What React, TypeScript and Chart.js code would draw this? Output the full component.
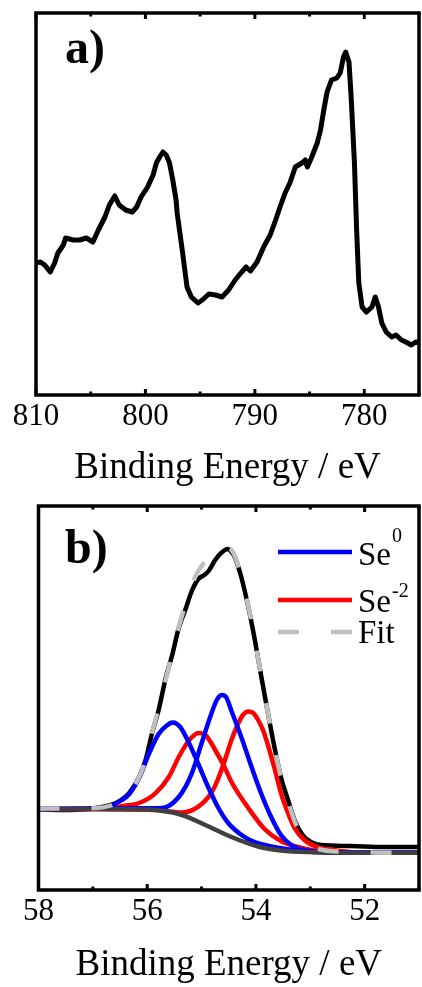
import React, { useEffect, useRef } from 'react';
import { Chart, registerables } from 'chart.js';

Chart.register(...registerables);

const FONT = '"Liberation Serif", "Times New Roman", Times, serif';

// ---------- Panel a: survey region ----------
const surveyEnergy = [
  810.0, 809.6, 809.2, 808.7, 808.3, 808.0, 807.5, 807.3, 806.6, 806.0,
  805.4, 804.8, 804.3, 803.7, 803.3, 802.8, 802.4, 801.8, 801.2, 800.8,
  800.4, 799.8, 799.3, 799.0, 798.7, 798.4, 798.1, 797.8, 797.5, 797.2,
  797.1, 796.6, 796.2, 795.8, 795.5, 795.2, 794.8, 794.2, 793.6, 793.0,
  792.4, 791.8, 791.2, 790.8, 790.4, 789.8, 789.2, 788.6, 788.1, 787.7,
  787.2, 786.8, 786.3, 785.7, 785.4, 785.2, 784.8, 784.3, 784.0, 783.7,
  783.4, 783.0, 782.5, 782.2, 781.9, 781.7, 781.4, 781.2, 780.9, 780.7,
  780.5, 780.2, 779.8, 779.3, 779.0, 778.7, 778.4, 778.0, 777.5, 777.1,
  776.6, 776.2, 775.7, 775.3, 775.0,
];
const surveyIntensity = [
  132, 133, 130, 123, 132, 142, 150, 157, 155, 155,
  157, 153, 165, 178, 190, 199, 190, 185, 183, 188,
  198, 208, 220, 232, 238, 243, 240, 232, 215, 195,
  182, 142, 108, 98, 95, 92, 95, 101, 100, 98,
  105, 115, 123, 128, 124, 133, 148, 160, 175, 188,
  203, 212, 228, 232, 235, 228, 238, 252, 265, 285,
  303, 315, 317, 322, 338, 343, 333, 298, 232, 165,
  112, 88, 83, 88, 98, 88, 72, 63, 58, 60,
  55, 53, 50, 53, 52,
];
const surveyTickLabels = [810, 800, 790, 780];

// ---------- Panel b: Se 3d ----------
const se3dEnergy = [
  58.0, 57.55, 56.94, 56.67, 56.48, 56.33, 56.15, 56.03, 55.91, 55.79,
  55.66, 55.54, 55.42, 55.3, 55.18, 55.06, 54.95, 54.87, 54.75, 54.63,
  54.52, 54.45, 54.39, 54.27, 54.14, 54.02, 53.9, 53.78, 53.66, 53.54,
  53.41, 53.29, 53.14, 52.99, 52.81, 52.26, 51.65, 51.0,
];
const se3dIntensity = [
  81, 80, 82, 85, 90, 97, 113, 130, 157, 180,
  212, 235, 262, 280, 299, 311, 315, 319, 330, 337.5,
  341, 338, 333, 313, 283, 250, 213, 177, 143, 113,
  90, 70, 55, 48, 45, 44, 43, 43,
];

const fitEnergy = [
  58.0, 56.94, 56.67, 56.48, 56.33, 56.15, 56.03, 55.91, 55.79, 55.66,
  55.54, 55.42, 55.3, 55.18, 55.06, 54.93, 54.81, 54.69, 54.57, 54.45,
  54.39, 54.27, 54.14, 54.02, 53.9, 53.78, 53.66, 53.54, 53.41, 53.29,
  53.14, 52.99, 52.81, 52.5, 51.95, 51.0,
];
const fitIntensity = [
  81.5, 82, 84.5, 90, 97, 113, 130, 157, 182, 210,
  237, 263, 285, 305, 319, 329, 337, 341, 342.5, 340,
  334, 314, 284, 250, 213, 177, 143, 113, 89, 69,
  53, 45, 40.5, 38.5, 37.5, 37.3,
];

const backgroundEnergy = [58.0, 57.49, 56.88, 56.27, 55.85, 55.36, 54.93, 54.45, 53.96, 53.54, 52.93, 52.01, 51.0];
const backgroundIntensity = [81, 81, 81, 80.8, 80, 75, 65, 53, 43.5, 39.5, 37.8, 37.3, 37.3];

const se0aEnergy = [
  58.0, 56.88, 56.67, 56.48, 56.33, 56.15, 55.97, 55.79, 55.64, 55.53,
  55.4, 55.24, 55.06, 54.87, 54.69, 54.51, 54.29, 54.09, 53.72, 53.23, 52.68, 51.0,
];
const se0aIntensity = [
  81, 81.5, 84, 89.5, 96, 112, 136, 156, 164.5, 167.5,
  163.5, 148, 126, 102, 82, 67, 56, 49.5, 43.5, 39.5, 37.5, 37.3,
];

const se0bEnergy = [
  58.0, 56.27, 55.73, 55.42, 55.18, 55.0, 54.84, 54.72, 54.63, 54.55,
  54.45, 54.27, 54.08, 53.9, 53.72, 53.54, 53.35, 53.11, 52.87, 51.0,
];
const se0bIntensity = [
  81, 81.7, 82, 93, 116.7, 146.7, 173.3, 190, 195, 193,
  179, 153, 123, 96, 73, 55, 45, 40, 38.3, 37.3,
];

const seM2aEnergy = [
  58.0, 56.7, 56.46, 56.15, 55.85, 55.6, 55.42, 55.24, 55.12, 55.06,
  54.93, 54.75, 54.57, 54.45, 54.14, 53.84, 53.54, 53.23, 52.87, 52.32, 51.0,
];
const seM2aIntensity = [
  81, 81.5, 84, 87, 96.7, 113.3, 133, 149, 155.5, 157,
  155, 140, 122, 108, 82, 61, 49, 43, 39, 37.5, 37.3,
];

const seM2bEnergy = [
  58.0, 55.85, 55.36, 55.06, 54.81, 54.69, 54.57, 54.45, 54.33, 54.24,
  54.14, 54.05, 53.96, 53.87, 53.78, 53.66, 53.54, 53.41, 53.29, 53.11,
  52.87, 52.56, 52.14, 51.0,
];
const seM2bIntensity = [
  81, 80, 77.5, 83.3, 98, 112, 130, 150, 166, 175,
  178.5, 177, 170, 160, 145, 122, 97, 77, 62, 50,
  43, 40, 37.7, 37.3,
];
const se3dTickLabels = [58, 56, 54, 52];

const pts = (xs: number[], ys: number[]) => xs.map((x, i) => ({ x, y: ys[i] }));

const framePlugin = {
  id: 'frame',
  afterDatasetsDraw(chart: any) {
    const { ctx, chartArea } = chart;
    const { left, right, top, bottom } = chartArea;
    const xs = chart.scales.x;
    ctx.save();
    ctx.strokeStyle = '#000';
    ctx.lineWidth = 3.5;
    ctx.strokeRect(left, top, right - left, bottom - top);
    ctx.lineWidth = 3;
    xs.ticks.forEach((t: any) => {
      const px = xs.getPixelForValue(t.value);
      const major = t.label !== '' && t.label !== undefined;
      const len = major ? 6 : 3.5;
      ctx.beginPath();
      ctx.moveTo(px, bottom);
      ctx.lineTo(px, bottom - len);
      ctx.moveTo(px, top);
      ctx.lineTo(px, top + len);
      ctx.stroke();
    });
    ctx.restore();
  },
};

const panelLabel = (text: string, x: number, y: number) => ({
  id: 'panelLabel',
  afterDraw(chart: any) {
    const ctx = chart.ctx;
    ctx.save();
    ctx.fillStyle = '#000';
    ctx.font = `bold 48px ${FONT}`;
    ctx.textBaseline = 'alphabetic';
    ctx.textAlign = 'left';
    ctx.fillText(text, x, y);
    ctx.restore();
  },
});

const legendPlugin = {
  id: 'seLegend',
  afterDraw(chart: any) {
    const ctx = chart.ctx;
    ctx.save();
    ctx.lineWidth = 4.5;
    ctx.lineCap = 'butt';
    const line = (color: string, y: number, dash: number[]) => {
      ctx.strokeStyle = color;
      ctx.setLineDash(dash);
      ctx.beginPath();
      ctx.moveTo(278, y);
      ctx.lineTo(352, y);
      ctx.stroke();
    };
    line('#0000ff', 62, []);
    line('#ff0000', 110, []);
    line('#c0c0c0', 142, [21, 32]);
    ctx.setLineDash([]);
    ctx.fillStyle = '#000';
    ctx.textBaseline = 'alphabetic';
    ctx.textAlign = 'left';
    ctx.font = `33px ${FONT}`;
    const seW = ctx.measureText('Se').width;
    ctx.fillText('Se', 358, 75);
    ctx.fillText('Se', 358, 122);
    ctx.fillText('Fit', 358, 153);
    ctx.font = `20px ${FONT}`;
    ctx.fillText('0', 358 + seW + 1, 52);
    ctx.fillText('-2', 358 + seW + 1, 107);
    ctx.restore();
  },
};

const axisX = (min: number, max: number, step: number, labels: number[], height: number) => ({
  type: 'linear' as const,
  reverse: true,
  min,
  max,
  ticks: {
    stepSize: step,
    autoSkip: false,
    maxRotation: 0,
    minRotation: 0,
    padding: 3,
    color: '#000',
    font: { family: FONT, size: 31 },
    callback: (v: any) => (labels.includes(Number(v)) ? String(v) : ''),
  },
  grid: { display: false, drawTicks: false },
  border: { display: false },
  title: {
    display: true,
    text: 'Binding Energy / eV',
    color: '#000',
    font: { family: FONT, size: 37 },
    padding: 0,
  },
  afterFit: (s: any) => {
    s.height = height;
  },
});

export default function App() {
  const refA = useRef<HTMLCanvasElement>(null);
  const refB = useRef<HTMLCanvasElement>(null);

  useEffect(() => {
    const lineDefaults = { pointRadius: 0, fill: false, borderJoinStyle: 'round' as const };
    const chartA = new Chart(refA.current!, {
      type: 'line',
      data: {
        datasets: [
          {
            label: 'Survey',
            data: pts(surveyEnergy, surveyIntensity),
            borderColor: '#000',
            borderWidth: 5,
            tension: 0,
            ...lineDefaults,
          },
        ],
      },
      options: {
        responsive: false,
        animation: false,
        devicePixelRatio: 1,
        layout: { padding: { left: 36, right: 3, top: 13, bottom: 0 } },
        plugins: { legend: { display: false }, tooltip: { enabled: false } },
        scales: {
          x: axisX(775, 810, 5, surveyTickLabels, 95),
          y: { display: false, min: 0, max: 382 },
        },
      },
      plugins: [framePlugin, panelLabel('a)', 65, 63)],
    } as any);

    const mono = { cubicInterpolationMode: 'monotone' as const };
    const w = 4.5;
    const chartB = new Chart(refB.current!, {
      type: 'line',
      data: {
        datasets: [
          { label: 'Fit', data: pts(fitEnergy, fitIntensity), borderColor: '#c0c0c0', borderWidth: w, borderDash: [21, 32], order: 0, ...mono, ...lineDefaults },
          { label: 'Background', data: pts(backgroundEnergy, backgroundIntensity), borderColor: '#404040', borderWidth: w, order: 1, ...mono, ...lineDefaults },
          { label: 'Se0 a', data: pts(se0aEnergy, se0aIntensity), borderColor: '#0000ff', borderWidth: w, order: 2, ...mono, ...lineDefaults },
          { label: 'Se0 b', data: pts(se0bEnergy, se0bIntensity), borderColor: '#0000ff', borderWidth: w, order: 2, ...mono, ...lineDefaults },
          { label: 'Se-2 a', data: pts(seM2aEnergy, seM2aIntensity), borderColor: '#ff0000', borderWidth: w, order: 3, ...mono, ...lineDefaults },
          { label: 'Se-2 b', data: pts(seM2bEnergy, seM2bIntensity), borderColor: '#ff0000', borderWidth: w, order: 3, ...mono, ...lineDefaults },
          { label: 'Data', data: pts(se3dEnergy, se3dIntensity), borderColor: '#000', borderWidth: w, order: 4, ...mono, ...lineDefaults },
        ],
      },
      options: {
        responsive: false,
        animation: false,
        devicePixelRatio: 1,
        layout: { padding: { left: 38.5, right: 1.5, top: 16, bottom: 0 } },
        plugins: { legend: { display: false }, tooltip: { enabled: false } },
        scales: {
          x: axisX(51, 58, 1, se3dTickLabels, 97),
          y: { display: false, min: 0, max: 384 },
        },
      },
      plugins: [framePlugin, panelLabel('b)', 65, 73), legendPlugin],
    } as any);

    return () => {
      chartA.destroy();
      chartB.destroy();
    };
  }, []);

  return (
    <div style={{ position: 'absolute', left: 0, top: 0, width: 422, height: 987, background: '#fff' }}>
      <canvas ref={refA} width={422} height={490} style={{ display: 'block', width: 422, height: 490 }} />
      <canvas ref={refB} width={422} height={497} style={{ display: 'block', width: 422, height: 497 }} />
    </div>
  );
}
